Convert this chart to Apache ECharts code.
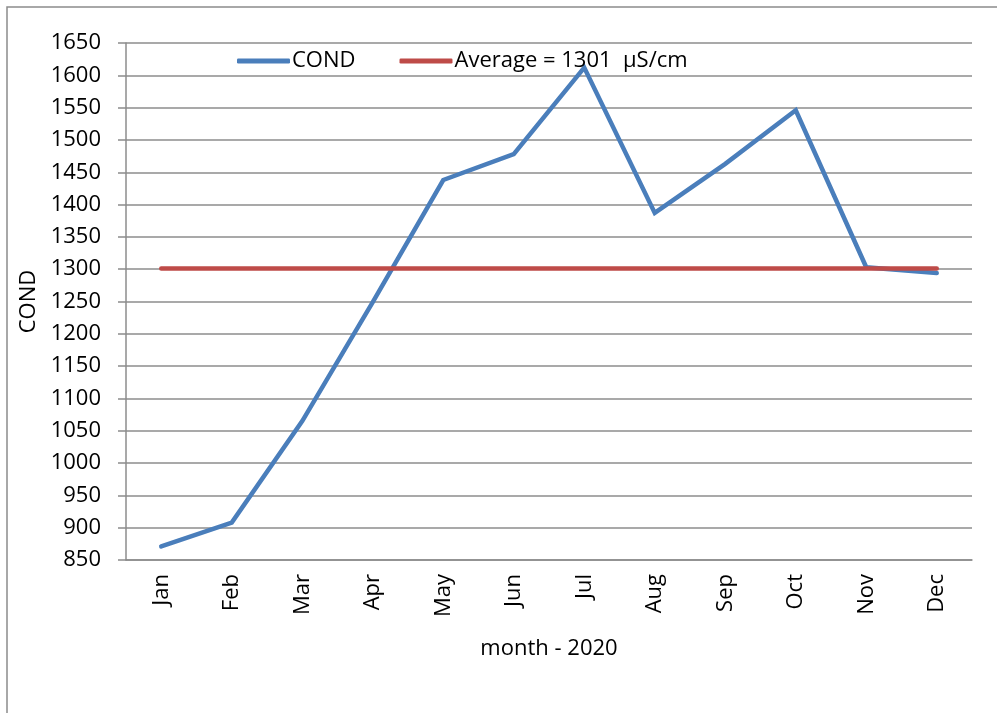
<!DOCTYPE html>
<html>
<head>
<meta charset="utf-8">
<script src="https://cdn.jsdelivr.net/npm/echarts@6/dist/echarts.min.js"></script>
<style>
  html, body { margin: 0; padding: 0; background: #fff; }
  #chart { width: 997px; height: 713px; }
</style>
</head>
<body>
<div id="chart"></div>
<script>
// Monthly conductivity for 2020 and the yearly average
const months = ['Jan', 'Feb', 'Mar', 'Apr', 'May', 'Jun', 'Jul', 'Aug', 'Sep', 'Oct', 'Nov', 'Dec'];
const condValues = [871, 908, 1065, 1249, 1438, 1478, 1612, 1387, 1463, 1546, 1303, 1294];
const averageValues = [1301, 1301, 1301, 1301, 1301, 1301, 1301, 1301, 1301, 1301, 1301, 1301];
const yTicks = { min: 850, max: 1650, step: 50 };

const FONT = 'Open Sans';
const FS = 22;
const chart = echarts.init(document.getElementById('chart'), null, { renderer: 'canvas' });

chart.setOption({
  backgroundColor: '#fff',
  animation: false,
  textStyle: { fontFamily: FONT, color: '#000' },
  graphic: [{
    type: 'rect',
    shape: { x: 7, y: 7, width: 1010, height: 720 },
    style: { fill: 'none', stroke: '#8c8c8c', lineWidth: 1.5 },
    silent: true
  }],
  legend: {
    left: 232,
    top: 45,
    itemWidth: 53,
    itemHeight: 5,
    itemGap: 44,
    textStyle: { fontFamily: FONT, fontSize: FS, color: '#000', padding: [0, 0, 0, -3] },
    data: [
      { name: 'COND', icon: 'roundRect' },
      { name: 'Average = 1301  µS/cm', icon: 'roundRect' }
    ]
  },
  grid: { left: 126, right: 25, top: 43, bottom: 153, containLabel: false },
  xAxis: {
    type: 'category',
    data: months,
    boundaryGap: true,
    name: 'month - 2020',
    nameLocation: 'middle',
    nameGap: 78,
    nameTextStyle: { fontFamily: FONT, fontSize: FS, color: '#000' },
    axisLine: { show: true, lineStyle: { color: '#8c8c8c', width: 1.5 } },
    axisTick: { show: false },
    axisLabel: { rotate: 90, margin: 14, fontFamily: FONT, fontSize: FS, color: '#000' },
    splitLine: { show: false }
  },
  yAxis: {
    type: 'value',
    min: yTicks.min,
    max: yTicks.max,
    interval: yTicks.step,
    name: 'COND',
    nameLocation: 'middle',
    nameGap: 84,
    nameRotate: 90,
    nameTextStyle: { fontFamily: FONT, fontSize: FS, color: '#000' },
    axisLine: { show: true, lineStyle: { color: '#8c8c8c', width: 1.5 } },
    axisTick: { show: true, inside: false, length: 8, lineStyle: { color: '#8c8c8c', width: 1.5 } },
    axisLabel: { margin: 25, fontFamily: FONT, fontSize: FS, color: '#000', formatter: v => String(v) },
    splitLine: { show: true, lineStyle: { color: '#8c8c8c', width: 1.5 } }
  },
  series: [
    {
      name: 'COND',
      type: 'line',
      data: condValues,
      symbol: 'none',
      lineStyle: { color: '#4a7ebb', width: 4.5, cap: 'round', join: 'miter' },
      itemStyle: { color: '#4a7ebb' },
      z: 2
    },
    {
      name: 'Average = 1301  µS/cm',
      type: 'line',
      data: averageValues,
      symbol: 'none',
      lineStyle: { color: '#be4b48', width: 4.5, cap: 'round' },
      itemStyle: { color: '#be4b48' },
      z: 3
    }
  ]
});
</script>
</body>
</html>
